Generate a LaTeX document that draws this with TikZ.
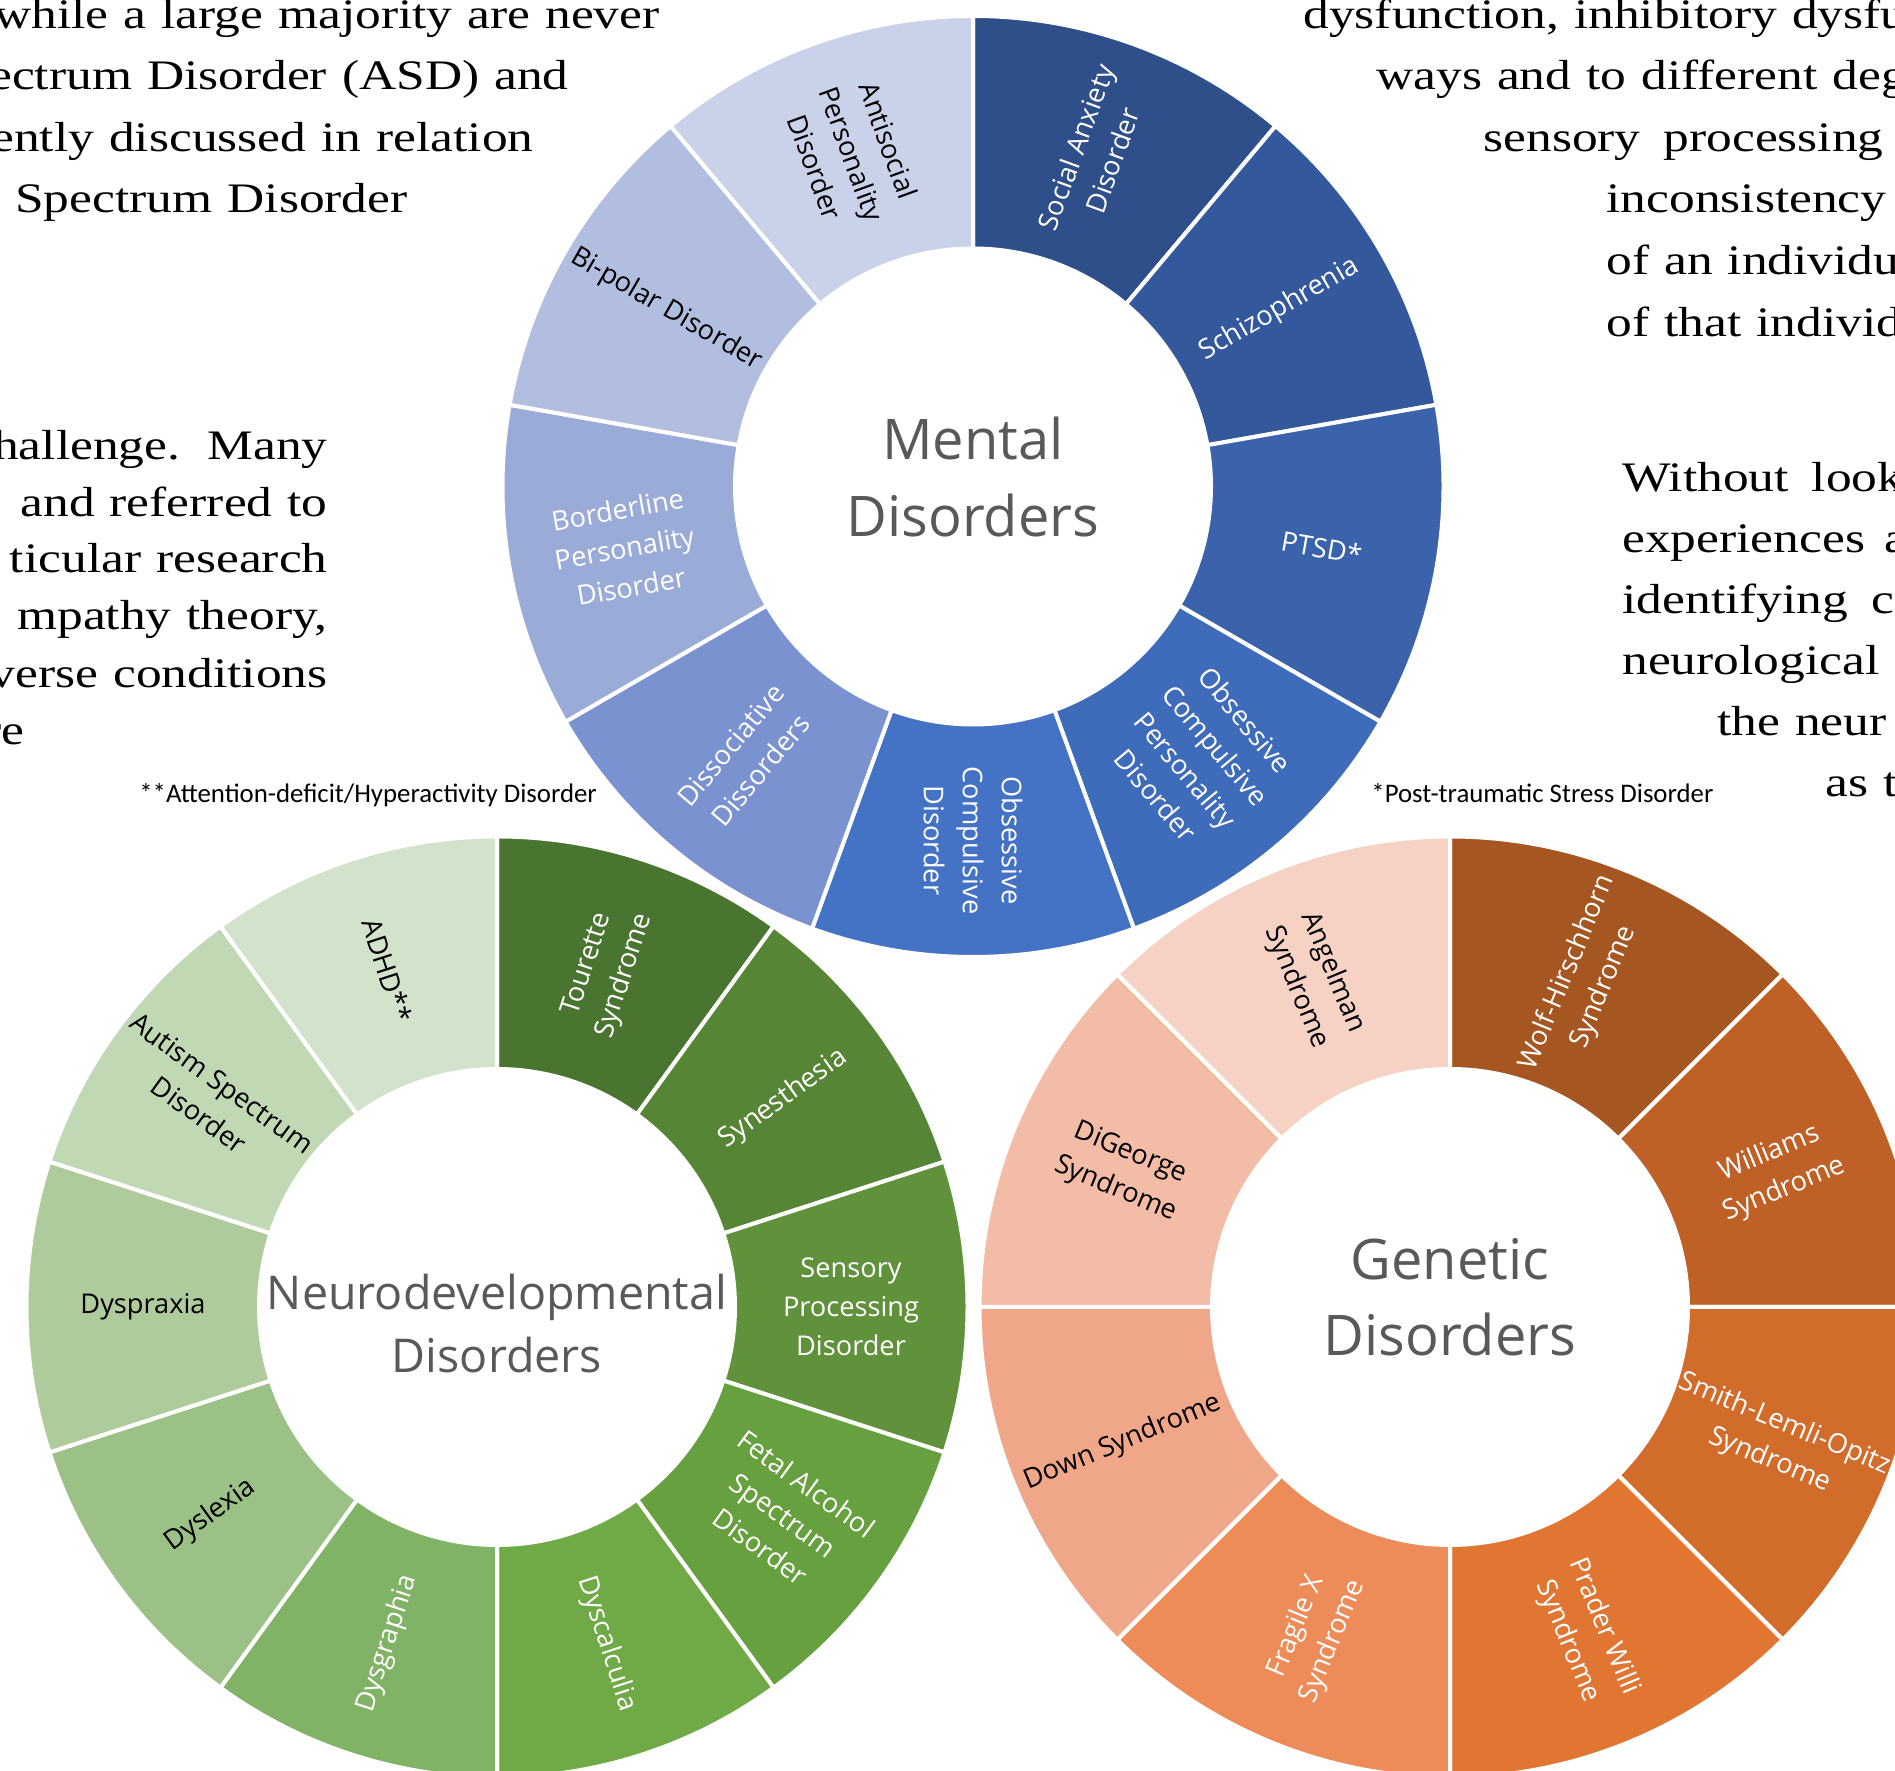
\documentclass[tikz,border=0pt]{standalone}
\usepackage{fontspec}
\setmainfont{Open Sans}
\newfontfamily\bgserif[FakeStretch=1.225]{Liberation Serif}
\newfontfamily\notefont{Carlito}
\usetikzlibrary{calc}

% mental (blue)
\definecolor{mA}{HTML}{2F4F8A}
\definecolor{mB}{HTML}{34589C}
\definecolor{mC}{HTML}{3A63AB}
\definecolor{mD}{HTML}{3E6BBA}
\definecolor{mE}{HTML}{4472C4}
\definecolor{mF}{HTML}{7A92CF}
\definecolor{mG}{HTML}{9AABD7}
\definecolor{mH}{HTML}{B2BEDF}
\definecolor{mI}{HTML}{CAD2E9}
% neuro (green)
\definecolor{nA}{HTML}{4A7530}
\definecolor{nB}{HTML}{568535}
\definecolor{nC}{HTML}{5F923B}
\definecolor{nD}{HTML}{66A03F}
\definecolor{nE}{HTML}{6FAA46}
\definecolor{nF}{HTML}{80B366}
\definecolor{nG}{HTML}{9CC186}
\definecolor{nH}{HTML}{AFCB9B}
\definecolor{nI}{HTML}{C1D8B5}
\definecolor{nJ}{HTML}{D3E2CA}
% genetic (orange)
\definecolor{gA}{HTML}{A55621}
\definecolor{gB}{HTML}{BF6127}
\definecolor{gC}{HTML}{D16C2B}
\definecolor{gD}{HTML}{E07631}
\definecolor{gE}{HTML}{ED8C58}
\definecolor{gF}{HTML}{F0A789}
\definecolor{gG}{HTML}{F3BCA7}
\definecolor{gH}{HTML}{F6D2C5}
\definecolor{ctrgray}{HTML}{595959}

\newcommand\bgfont{\bgserif\fontsize{21pt}{30pt}\selectfont\spaceskip=7.5pt\relax}
\newcommand\ringseg[4]{%
  \filldraw[seg, fill=#4] ($(#1)+(#2:119pt)$) arc[start angle=#2, end angle=#3, radius=119pt]
    -- ($(#1)+(#3:235.25pt)$) arc[start angle=#3, end angle=#2, radius=235.25pt] -- cycle;}

\tikzset{
  seg/.style={draw=white, line width=2pt},
  lab/.style={align=center, inner sep=0pt, font=\fontsize{13.6pt}{19.5pt}\selectfont},
  labw/.style={lab, text=white},
  labk/.style={lab, text=black},
  ctrbig/.style={anchor=base, inner sep=0pt, text=ctrgray, font=\fontsize{28pt}{36pt}\selectfont},
  ctrsmall/.style={anchor=base, inner sep=0pt, text=ctrgray, font=\fontsize{23.3pt}{30pt}\selectfont},
  bgl/.style={anchor=base east, inner sep=0pt, font=\bgfont},
  bgr/.style={anchor=base west, inner sep=0pt, font=\bgfont},
  note/.style={anchor=base west, inner sep=0pt, font=\notefont\fontsize{13.4pt}{16pt}\selectfont},
}

\begin{document}
\begin{tikzpicture}[x=0.5pt, y=0.5pt]
\useasboundingbox (0,0) rectangle (1895,1771);
\clip (0,0) rectangle (1895,1771);

% background text fragments
\node[bgl] (tl1) at (660,1742) {while a large majority are never};
\node[bgl] (tl2) at (569,1681) {ectrum Disorder (ASD) and};
\node[bgl] (tl3) at (534,1619) {ently discussed in relation};
\node[bgl] (tl4) at (408,1558) {Spectrum Disorder};

\node[bgl] (ml1) at (328,1311) {hallenge.\hspace{4pt} Many};
\node[bgl] (ml2) at (328,1254) {and referred to};
\node[bgl] (ml3) at (328,1198) {ticular research};
\node[bgl] (ml4) at (328,1141) {mpathy theory,};
\node[bgl] (ml5) at (328,1083) {verse conditions};
\node[bgl] (ml6) at (25,1026) {re};

\node[bgr] (tr1) at (1303,1742) {dysfunction, inhibitory dysfu};
\node[bgr] (tr2) at (1376,1681) {ways and to different deg};
\node[bgr] (tr3) at (1483,1619) {sensory\hspace{4pt} processing};
\node[bgr] (tr4) at (1606,1558) {inconsistency};
\node[bgr] (tr5) at (1606,1496) {of an individu};
\node[bgr] (tr6) at (1606,1434) {of that individ};

\node[bgr] (mr1) at (1622,1279) {Without\hspace{4pt} look};
\node[bgr] (mr2) at (1622,1218) {experiences\hspace{2pt} a};
\node[bgr] (mr3) at (1622,1157) {identifying\hspace{4pt} c};
\node[bgr] (mr4) at (1622,1096) {neurological};
\node[bgr] (mr5) at (1717,1035) {the neur};
\node[bgr] (mr6) at (1825,974) {as t};

% footnotes
\node[note] (fn1) at (139,968) {**Attention-deficit/Hyperactivity Disorder};
\node[note] (fn2) at (1371,968) {*Post-traumatic Stress Disorder};

% centres
\coordinate (M) at (973,1284.5);
\coordinate (N) at (497,464);
\coordinate (G) at (1450,464);

% ---------------- Mental Disorders ----------------
\ringseg{M}{90}{50}{mA}
\ringseg{M}{50}{10}{mB}
\ringseg{M}{10}{-30}{mC}
\ringseg{M}{-30}{-70}{mD}
\ringseg{M}{-70}{-110}{mE}
\ringseg{M}{-110}{-150}{mF}
\ringseg{M}{-150}{-190}{mG}
\ringseg{M}{-190}{-230}{mH}
\ringseg{M}{-230}{-270}{mI}

\node[labw, rotate=70] (m1) at ($(M)+(70:177pt)$) {Social Anxiety\\Disorder};
\node[labw, rotate=30] (m2) at ($(M)+(30:177pt)$) {Schizophrenia};
\node[labw, rotate=-10] (m3) at ($(M)+(-10:177pt)$) {PTSD*};
\node[labw, rotate=-50] (m4) at ($(M)+(-50:177pt)$) {Obsessive\\Compulsive\\Personality\\Disorder};
\node[labw, rotate=-90] (m5) at ($(M)+(-90:177pt)$) {Obsessive\\Compulsive\\Disorder};
\node[labw, rotate=50] (m6) at ($(M)+(-130:177pt)$) {Dissociative\\Dissorders};
\node[labw, rotate=10] (m7) at ($(M)+(-170:177pt)$) {Borderline\\Personality\\Disorder};
\node[labk, rotate=-30] (m8) at ($(M)+(150:177pt)$) {Bi-polar Disorder};
\node[labk, rotate=-70] (m9) at ($(M)+(110:177pt)$) {Antisocial\\Personality\\Disorder};

\node[ctrbig] (mt1) at (973,1311) {Mental};
\node[ctrbig] (mt2) at (973,1234) {Disorders};

% ---------------- Neurodevelopmental Disorders ----------------
\ringseg{N}{90}{54}{nA}
\ringseg{N}{54}{18}{nB}
\ringseg{N}{18}{-18}{nC}
\ringseg{N}{-18}{-54}{nD}
\ringseg{N}{-54}{-90}{nE}
\ringseg{N}{-90}{-126}{nF}
\ringseg{N}{-126}{-162}{nG}
\ringseg{N}{-162}{-198}{nH}
\ringseg{N}{-198}{-234}{nI}
\ringseg{N}{-234}{-270}{nJ}

\node[labw, rotate=72] (n1) at ($(N)+(72:177pt)$) {Tourette\\Syndrome};
\node[labw, rotate=36] (n2) at ($(N)+(36:177pt)$) {Synesthesia};
\node[labw, rotate=0] (n3) at ($(N)+(0:177pt)$) {Sensory\\Processing\\Disorder};
\node[labw, rotate=-36] (n4) at ($(N)+(-36:177pt)$) {Fetal Alcohol\\Spectrum\\Disorder};
\node[labw, rotate=-72] (n5) at ($(N)+(-72:177pt)$) {Dyscalculia};
\node[labw, rotate=72] (n6) at ($(N)+(-108:177pt)$) {Dysgraphia};
\node[labk, rotate=36] (n7) at ($(N)+(-144:177pt)$) {Dyslexia};
\node[labk, rotate=0] (n8) at ($(N)+(180:177pt)$) {Dyspraxia};
\node[labk, rotate=-36] (n9) at ($(N)+(144:177pt)$) {Autism Spectrum\\Disorder};
\node[labk, rotate=-72] (n10) at ($(N)+(108:177pt)$) {ADHD**};

\node[ctrsmall] (nt1) at (497,461) {Neurodevelopmental};
\node[ctrsmall] (nt2) at (497,398) {Disorders};

% ---------------- Genetic Disorders ----------------
\ringseg{G}{90}{45}{gA}
\ringseg{G}{45}{0}{gB}
\ringseg{G}{0}{-45}{gC}
\ringseg{G}{-45}{-90}{gD}
\ringseg{G}{-90}{-135}{gE}
\ringseg{G}{-135}{-180}{gF}
\ringseg{G}{-180}{-225}{gG}
\ringseg{G}{-225}{-270}{gH}

\node[labw, rotate=67.5] (g1) at ($(G)+(67.5:177pt)$) {Wolf-Hirschhorn\\Syndrome};
\node[labw, rotate=22.5] (g2) at ($(G)+(22.5:177pt)$) {Williams\\Syndrome};
\node[labw, rotate=-22.5] (g3) at ($(G)+(-22.5:177pt)$) {Smith-Lemli-Opitz\\Syndrome};
\node[labw, rotate=-67.5] (g4) at ($(G)+(-67.5:177pt)$) {Prader Willi\\Syndrome};
\node[labw, rotate=67.5] (g5) at ($(G)+(-112.5:177pt)$) {Fragile X\\Syndrome};
\node[labk, rotate=22.5] (g6) at ($(G)+(-157.5:177pt)$) {Down Syndrome};
\node[labk, rotate=-22.5] (g7) at ($(G)+(157.5:177pt)$) {DiGeorge\\Syndrome};
\node[labk, rotate=-67.5] (g8) at ($(G)+(112.5:177pt)$) {Angelman\\Syndrome};

\node[ctrbig] (gt1) at (1450,491) {Genetic};
\node[ctrbig] (gt2) at (1450,415) {Disorders};
\end{tikzpicture}
\end{document}
